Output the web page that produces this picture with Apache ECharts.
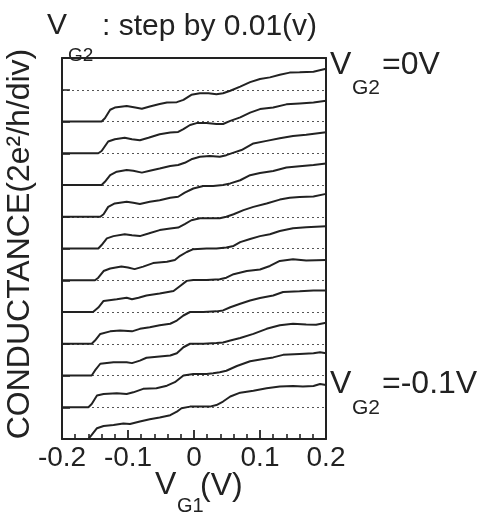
<!DOCTYPE html>
<html>
<head>
    <meta charset="utf-8">
    <title>Conductance traces</title>
    <script src="https://cdn.jsdelivr.net/npm/echarts@6/dist/echarts.min.js"></script>
    <style>
        html, body { margin: 0; padding: 0; background: #fff; }
    </style>
</head>
<body>
    <div id="main" style="width: 490px;height:512px;"></div>
    <script type="text/javascript">
    // VG2 of each trace, top to bottom, and the vertical offset (div) of each trace
    var vg2 = [0, -0.01, -0.02, -0.03, -0.04, -0.05, -0.06, -0.07, -0.08, -0.09, -0.1];
    var offsets = [10, 9, 8, 7, 6, 5, 4, 3, 2, 1, 0];
    var xRange = [-0.2, 0.2];

    // each trace: [VG1 (V), conductance above its own baseline (2e^2/h)]
    var g00 = [[-0.2,0],[-0.14,0],[-0.135,0.1],[-0.127,0.37],[-0.12,0.44],[-0.102,0.49],[-0.089,0.44],[-0.079,0.4],[-0.067,0.47],[-0.052,0.55],[-0.041,0.6],[-0.026,0.61],[-0.016,0.68],[-0.004,0.84],[0.009,0.89],[0.022,0.89],[0.034,0.86],[0.044,0.89],[0.055,0.97],[0.07,1.1],[0.085,1.24],[0.1,1.34],[0.115,1.39],[0.13,1.47],[0.145,1.54],[0.16,1.55],[0.181,1.57],[0.2,1.66]];
    var g01 = [[-0.2,0],[-0.145,0],[-0.14,0.07],[-0.13,0.37],[-0.12,0.44],[-0.105,0.49],[-0.094,0.44],[-0.082,0.41],[-0.069,0.49],[-0.052,0.6],[-0.036,0.65],[-0.024,0.67],[-0.016,0.76],[-0.006,0.89],[0.004,0.95],[0.019,0.95],[0.034,0.92],[0.044,0.92],[0.055,1.02],[0.07,1.13],[0.085,1.28],[0.1,1.39],[0.12,1.44],[0.14,1.54],[0.16,1.57],[0.181,1.6],[0.2,1.65]];
    var g02 = [[-0.2,0],[-0.14,0],[-0.135,0.1],[-0.127,0.31],[-0.117,0.42],[-0.102,0.47],[-0.092,0.45],[-0.079,0.39],[-0.067,0.45],[-0.052,0.52],[-0.036,0.6],[-0.024,0.63],[-0.014,0.7],[-0.004,0.81],[0.009,0.89],[0.024,0.91],[0.039,0.89],[0.049,0.94],[0.06,1.02],[0.072,1.1],[0.09,1.31],[0.11,1.39],[0.13,1.47],[0.15,1.54],[0.17,1.58],[0.2,1.66]];
    var g03 = [[-0.2,0],[-0.142,0],[-0.137,0.08],[-0.13,0.31],[-0.12,0.42],[-0.102,0.47],[-0.092,0.44],[-0.082,0.4],[-0.067,0.47],[-0.052,0.52],[-0.036,0.6],[-0.024,0.63],[-0.014,0.76],[-0.001,0.89],[0.014,0.97],[0.029,0.97],[0.044,1.0],[0.055,1.05],[0.07,1.15],[0.085,1.31],[0.1,1.38],[0.12,1.44],[0.14,1.55],[0.16,1.59],[0.181,1.63],[0.2,1.68]];
    var g04 = [[-0.2,0],[-0.145,0],[-0.14,0.11],[-0.132,0.32],[-0.122,0.39],[-0.105,0.45],[-0.094,0.42],[-0.082,0.39],[-0.069,0.47],[-0.052,0.58],[-0.036,0.63],[-0.024,0.66],[-0.014,0.77],[-0.004,0.89],[0.009,0.95],[0.024,0.95],[0.039,0.95],[0.049,1.0],[0.06,1.08],[0.075,1.21],[0.09,1.31],[0.11,1.42],[0.13,1.54],[0.145,1.6],[0.16,1.62],[0.181,1.64],[0.2,1.72]];
    var g05 = [[-0.2,0],[-0.15,0],[-0.145,0.08],[-0.137,0.29],[-0.127,0.37],[-0.11,0.43],[-0.1,0.4],[-0.09,0.35],[-0.077,0.43],[-0.062,0.54],[-0.041,0.58],[-0.029,0.64],[-0.021,0.77],[-0.011,0.89],[-0.001,0.98],[0.019,1.0],[0.034,1.0],[0.049,1.03],[0.06,1.08],[0.07,1.2],[0.085,1.3],[0.1,1.39],[0.115,1.45],[0.13,1.55],[0.15,1.64],[0.17,1.67],[0.2,1.7]];
    var g06 = [[-0.2,0],[-0.153,0],[-0.145,0.14],[-0.137,0.35],[-0.117,0.4],[-0.102,0.45],[-0.094,0.4],[-0.084,0.45],[-0.072,0.52],[-0.052,0.58],[-0.031,0.66],[-0.021,0.82],[-0.011,0.98],[-0.001,1.01],[0.019,1.01],[0.039,1.03],[0.049,1.08],[0.06,1.19],[0.08,1.29],[0.1,1.34],[0.115,1.45],[0.13,1.61],[0.15,1.66],[0.17,1.62],[0.2,1.64]];
    var g07 = [[-0.2,0],[-0.155,0],[-0.15,0.1],[-0.142,0.31],[-0.127,0.39],[-0.112,0.42],[-0.094,0.39],[-0.082,0.47],[-0.067,0.52],[-0.052,0.58],[-0.036,0.63],[-0.026,0.73],[-0.016,0.89],[-0.006,1.0],[0.014,1.0],[0.034,1.02],[0.044,1.05],[0.055,1.15],[0.07,1.26],[0.085,1.36],[0.1,1.44],[0.12,1.52],[0.135,1.63],[0.16,1.65],[0.181,1.68],[0.2,1.68]];
    var g08 = [[-0.2,0],[-0.155,0],[-0.15,0.16],[-0.142,0.37],[-0.122,0.42],[-0.102,0.42],[-0.094,0.39],[-0.082,0.47],[-0.072,0.56],[-0.052,0.6],[-0.036,0.63],[-0.026,0.7],[-0.016,0.89],[-0.006,1.0],[0.014,1.0],[0.034,1.02],[0.044,1.04],[0.055,1.1],[0.07,1.18],[0.09,1.31],[0.11,1.47],[0.13,1.58],[0.15,1.63],[0.17,1.61],[0.185,1.6],[0.2,1.66]];
    var g09 = [[-0.2,0],[-0.16,0],[-0.155,0.1],[-0.147,0.37],[-0.137,0.42],[-0.117,0.44],[-0.102,0.42],[-0.092,0.47],[-0.077,0.58],[-0.057,0.6],[-0.041,0.68],[-0.029,0.79],[-0.016,1.0],[-0.001,1.05],[0.019,1.05],[0.029,1.07],[0.039,1.1],[0.049,1.15],[0.065,1.3],[0.085,1.45],[0.105,1.52],[0.12,1.57],[0.135,1.65],[0.16,1.68],[0.181,1.7],[0.191,1.73],[0.2,1.7]];
    var g10 = [[-0.2,0],[-0.16,0],[-0.155,0.13],[-0.147,0.34],[-0.137,0.41],[-0.122,0.44],[-0.107,0.49],[-0.097,0.47],[-0.082,0.55],[-0.067,0.62],[-0.052,0.68],[-0.036,0.75],[-0.026,0.86],[-0.019,0.97],[-0.006,1.02],[0.009,1.02],[0.024,1.02],[0.034,1.07],[0.044,1.18],[0.055,1.34],[0.07,1.46],[0.09,1.52],[0.11,1.6],[0.13,1.65],[0.15,1.67],[0.165,1.65],[0.181,1.67],[0.191,1.73],[0.2,1.7]];

    var traces = [g00, g01, g02, g03, g04, g05, g06, g07, g08, g09, g10];

    var ink = '#222';
    var font = '"Liberation Sans", Arial, Helvetica, sans-serif';

    var myChart = echarts.init(document.getElementById('main'));

    var series = traces.map(function (t, i) {
      return {
        name: 'VG2=' + vg2[i],
        type: 'line',
        showSymbol: false,
        silent: true,
        lineStyle: { color: ink, width: 2 },
        data: t.map(function (p) { return [p[0], p[1] + offsets[i]]; })
      };
    });

    function txt(s, x, y, size) {
      return {
        type: 'text', x: x, y: y, silent: true,
        style: { text: s, font: size + 'px ' + font, fill: ink, verticalAlign: 'middle', align: 'left' }
      };
    }

    // plain frame line for the top and right sides
    var frameAxis = {
      axisLine: { show: true, onZero: false, lineStyle: { color: ink, width: 2 } },
      axisTick: { show: false },
      axisLabel: { show: false },
      splitLine: { show: false }
    };

    var option = {
      backgroundColor: '#fff',
      animation: false,
      grid: { left: 62, right: 164, top: 58, bottom: 73 },
      xAxis: [{
        type: 'value',
        min: xRange[0], max: xRange[1], interval: 0.1,
        axisLine: { show: true, onZero: false, lineStyle: { color: ink, width: 2 } },
        axisTick: { show: true, inside: true, length: 9, lineStyle: { color: ink, width: 1.8 } },
        minorTick: { show: true, splitNumber: 5, length: 5, lineStyle: { color: ink, width: 1.6 } },
        splitLine: { show: false },
        axisLabel: {
          show: true, color: ink, fontSize: 28, fontFamily: font, margin: 5,
          showMinLabel: true, showMaxLabel: true, hideOverlap: false
        }
      }, Object.assign({ type: 'value', position: 'top', min: xRange[0], max: xRange[1] }, frameAxis)],
      yAxis: [{
        type: 'value',
        min: 0, max: 12, interval: 1,
        axisLine: { show: true, onZero: false, lineStyle: { color: ink, width: 2 } },
        axisTick: { show: true, inside: true, length: 8, lineStyle: { color: ink, width: 1.5 } },
        axisLabel: { show: false },
        splitLine: { show: true, lineStyle: { color: '#555', width: 1, type: [2, 3] } }
      }, Object.assign({ type: 'value', position: 'right', min: 0, max: 12 }, frameAxis)],
      graphic: [
        // title
        txt('V', 47, 26, 30),
        txt('G2', 68, 56, 19),
        txt(': step by 0.01(v)', 102, 27, 30),
        // trace labels on the right
        txt('V', 330, 65, 32),
        txt('G2', 352, 88, 21),
        txt('=0V', 382, 65, 32),
        txt('V', 330, 384, 32),
        txt('G2', 352, 408, 21),
        txt('=-0.1V', 382, 384, 32),
        // x axis name
        txt('V', 155, 485, 32),
        txt('G1', 177, 506, 20),
        txt('(V)', 200, 486, 32),
        // y axis name
        {
          type: 'text', x: 20, y: 244, rotation: Math.PI / 2, silent: true,
          style: {
            text: 'CONDUCTANCE(2e\u00b2/h/div)', font: '32px ' + font, fill: ink,
            align: 'center', verticalAlign: 'middle'
          }
        }
      ],
      series: series
    };

    myChart.setOption(option);
    </script>
</body>
</html>
